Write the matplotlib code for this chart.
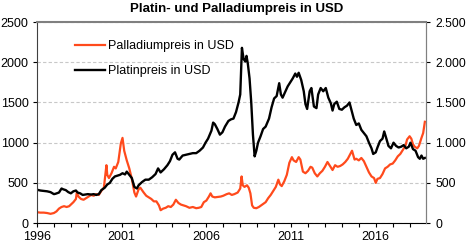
import matplotlib
matplotlib.use("Agg")
import matplotlib.pyplot as plt
from matplotlib.ticker import FuncFormatter, MultipleLocator

plt.rcParams['font.family'] = ['Liberation Sans', 'DejaVu Sans']

# platinum price (USD), decimal years
pt_years = [1996.0, 1996.2, 1996.4, 1996.6, 1996.8, 1997.0, 1997.1, 1997.3, 1997.45, 1997.55,
            1997.7, 1997.85, 1998.0, 1998.15, 1998.3, 1998.4, 1998.55, 1998.7, 1998.85, 1999.0,
            1999.2, 1999.35, 1999.5, 1999.65, 1999.8, 2000.0, 2000.15, 2000.3, 2000.45, 2000.6,
            2000.75, 2000.9, 2001.05, 2001.2, 2001.3, 2001.45, 2001.6, 2001.75, 2001.9, 2002.0,
            2002.2, 2002.4, 2002.6, 2002.8, 2003.0, 2003.15, 2003.3, 2003.5, 2003.7, 2003.85,
            2004.0, 2004.15, 2004.3, 2004.4, 2004.6, 2004.8, 2005.0, 2005.2, 2005.4, 2005.6,
            2005.8, 2005.95, 2006.1, 2006.3, 2006.4, 2006.5, 2006.65, 2006.8, 2006.95, 2007.1,
            2007.3, 2007.45, 2007.6, 2007.75, 2007.9, 2008.0, 2008.1, 2008.2, 2008.3, 2008.37,
            2008.45, 2008.55, 2008.65, 2008.75, 2008.85, 2008.95, 2009.05, 2009.2, 2009.35, 2009.5,
            2009.7, 2009.85, 2010.0, 2010.15, 2010.3, 2010.4, 2010.5, 2010.65, 2010.8, 2010.95,
            2011.1, 2011.25, 2011.35, 2011.45, 2011.6, 2011.75, 2011.85, 2011.95, 2012.1, 2012.2,
            2012.35, 2012.5, 2012.6, 2012.75, 2012.9, 2013.05, 2013.2, 2013.35, 2013.45, 2013.55,
            2013.7, 2013.85, 2014.0, 2014.15, 2014.3, 2014.45, 2014.55, 2014.7, 2014.85, 2015.0,
            2015.15, 2015.3, 2015.45, 2015.6, 2015.75, 2015.85, 2016.0, 2016.1, 2016.25, 2016.4,
            2016.5, 2016.6, 2016.75, 2016.9, 2017.05, 2017.2, 2017.35, 2017.5, 2017.65, 2017.8,
            2017.95, 2018.05, 2018.2, 2018.35, 2018.5, 2018.6, 2018.7, 2018.8, 2018.9]
pt_values = [415, 405, 400, 395, 385, 360, 365, 380, 430, 420,
             410, 385, 370, 395, 405, 380, 370, 350, 355, 360,
             355, 360, 350, 360, 410, 440, 480, 500, 550, 580,
             590, 600, 620, 605, 640, 600, 560, 450, 430, 470,
             510, 540, 540, 570, 610, 680, 630, 670, 720, 770,
             850, 880, 800, 790, 840, 850, 860, 870, 870, 900,
             940, 1000, 1050, 1150, 1250, 1230, 1170, 1100, 1130, 1200,
             1270, 1290, 1300, 1380, 1500, 1600, 2180, 2040, 2010, 2080,
             1980, 1800, 1500, 1100, 830, 900, 1000, 1080, 1170, 1200,
             1300, 1440, 1550, 1580, 1740, 1600, 1560, 1630, 1700, 1750,
             1800, 1860, 1820, 1870, 1780, 1640, 1480, 1420, 1640, 1680,
             1450, 1430, 1600, 1680, 1640, 1680, 1560, 1490, 1400, 1480,
             1510, 1420, 1410, 1440, 1460, 1500, 1420, 1300, 1220, 1240,
             1160, 1120, 1080, 1000, 930, 860, 880, 940, 1020, 1050,
             1140, 1070, 960, 930, 1000, 960, 940, 950, 970, 930,
             950, 1000, 920, 900, 820, 800, 840, 800, 810]

# palladium price (USD), decimal years
pd_years = [1996.0, 1996.2, 1996.4, 1996.6, 1996.8, 1997.0, 1997.15, 1997.3, 1997.45, 1997.6,
            1997.75, 1997.9, 1998.0, 1998.15, 1998.3, 1998.35, 1998.45, 1998.6, 1998.75, 1998.9,
            1999.05, 1999.2, 1999.35, 1999.5, 1999.65, 1999.8, 1999.95, 2000.1, 2000.15, 2000.25,
            2000.4, 2000.55, 2000.65, 2000.8, 2000.95, 2001.05, 2001.15, 2001.3, 2001.45, 2001.6,
            2001.75, 2001.85, 2002.0, 2002.1, 2002.3, 2002.45, 2002.6, 2002.75, 2002.9, 2003.05,
            2003.2, 2003.3, 2003.45, 2003.6, 2003.75, 2003.9, 2004.05, 2004.2, 2004.35, 2004.5,
            2004.65, 2004.8, 2005.0, 2005.2, 2005.4, 2005.55, 2005.7, 2005.85, 2006.0, 2006.15,
            2006.25, 2006.35, 2006.5, 2006.7, 2006.85, 2007.0, 2007.2, 2007.35, 2007.5, 2007.65,
            2007.85, 2008.0, 2008.08, 2008.15, 2008.25, 2008.4, 2008.5, 2008.6, 2008.7, 2008.8,
            2008.95, 2009.1, 2009.3, 2009.5, 2009.65, 2009.8, 2009.95, 2010.1, 2010.25, 2010.35,
            2010.45, 2010.6, 2010.75, 2010.9, 2011.05, 2011.15, 2011.3, 2011.45, 2011.55, 2011.7,
            2011.85, 2012.0, 2012.15, 2012.25, 2012.4, 2012.55, 2012.7, 2012.85, 2013.0, 2013.15,
            2013.3, 2013.45, 2013.6, 2013.75, 2013.9, 2014.05, 2014.2, 2014.35, 2014.5, 2014.6,
            2014.75, 2014.85, 2015.0, 2015.15, 2015.3, 2015.45, 2015.6, 2015.75, 2015.9, 2016.0,
            2016.1, 2016.25, 2016.4, 2016.55, 2016.7, 2016.85, 2017.0, 2017.15, 2017.3, 2017.45,
            2017.6, 2017.75, 2017.85, 2018.0, 2018.1, 2018.2, 2018.3, 2018.45, 2018.55, 2018.7,
            2018.8, 2018.9]
pd_values = [135, 130, 130, 125, 115, 125, 145, 180, 200, 210,
             200, 210, 230, 260, 300, 380, 330, 300, 290, 310,
             330, 350, 340, 360, 350, 400, 440, 720, 600, 560,
             620, 700, 680, 760, 990, 1060, 900, 780, 680, 550,
             380, 330, 420, 440, 380, 340, 320, 300, 270, 270,
             220, 160, 180, 190, 210, 200, 230, 290, 250, 230,
             220, 210, 190, 200, 185, 190, 200, 260, 280, 330,
             370, 330, 320, 325, 330, 340, 360, 370, 350, 360,
             380, 430, 580, 470, 450, 470, 440, 370, 220, 190,
             185, 200, 230, 260, 310, 350, 400, 450, 540, 480,
             460, 520, 600, 750, 820, 780, 760, 820, 790, 640,
             620, 650, 700, 690, 620, 580, 620, 650, 700, 760,
             710, 660, 720, 700, 710, 730, 760, 800, 860, 900,
             790, 800, 780, 810, 770, 700, 630, 580, 560, 500,
             550, 560, 610, 680, 700, 730, 740, 780, 830, 860,
             910, 960, 1040, 1080, 1050, 980, 950, 930, 960, 1060,
             1120, 1260]

year_ticks = [1996, 2001, 2006, 2011, 2016]

fig = plt.figure(figsize=(4.68, 2.43), dpi=100)
ax = fig.add_axes([0.079, 0.082, 0.831, 0.827])

ax.plot(pd_years, pd_values, color='#ff4a1c', lw=1.6, label='Palladiumpreis in USD')
ax.plot(pt_years, pt_values, color='black', lw=1.7, label='Platinpreis in USD')

ax.set_xlim(1996, 2018.96)
ax.set_ylim(0, 2500)
ax.yaxis.set_major_locator(MultipleLocator(500))
ax.set_xticks(year_ticks)
ax.set_xticklabels([str(y) for y in year_ticks])
ax.set_xticks(range(1997, 2019), minor=True)
ax.yaxis.grid(True, ls=(0, (3, 2)), color='#c8c8c8', lw=0.8)
ax.set_axisbelow(True)

for s in ['top', 'right']:
    ax.spines[s].set_color('#808080')
ax.spines['top'].set_linewidth(1.5)
ax.spines['left'].set_color('#404040')
ax.spines['bottom'].set_color('black')
ax.tick_params(axis='both', labelsize=9, length=3, width=0.8, pad=3)
ax.tick_params(axis='x', which='minor', length=3, width=0.8)

ax2 = ax.twinx()
ax2.set_ylim(0, 2500)
ax2.yaxis.set_major_locator(MultipleLocator(500))
ax2.yaxis.set_major_formatter(FuncFormatter(lambda v, p: f'{int(v):,}'.replace(',', '.')))
ax2.tick_params(axis='y', labelsize=8.8, length=3, width=0.8, pad=4)
for s in ['top', 'left', 'bottom']:
    ax2.spines[s].set_visible(False)
ax2.spines['right'].set_color('#808080')

ax.legend(loc='upper left', bbox_to_anchor=(0.07, 0.965), frameon=False, fontsize=9,
          handlelength=2.4, handletextpad=0.2, labelspacing=1.0)

fig.text(0.506, 0.962, 'Platin- und Palladiumpreis in USD', ha='center', va='center',
         fontsize=9.5, fontweight='bold')

fig.savefig('out.png', dpi=100)
